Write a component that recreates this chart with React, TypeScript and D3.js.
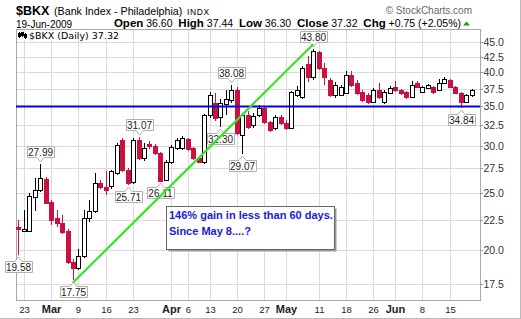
import React, { useEffect, useRef } from 'react';
import * as d3 from 'd3';

const W = 521;
const H = 319;

const dates = [
  '2009-02-20', '2009-02-23', '2009-02-24', '2009-02-25', '2009-02-26', '2009-02-27',
  '2009-03-02', '2009-03-03', '2009-03-04', '2009-03-05', '2009-03-06',
  '2009-03-09', '2009-03-10', '2009-03-11', '2009-03-12', '2009-03-13',
  '2009-03-16', '2009-03-17', '2009-03-18', '2009-03-19', '2009-03-20',
  '2009-03-23', '2009-03-24', '2009-03-25', '2009-03-26', '2009-03-27',
  '2009-03-30', '2009-03-31', '2009-04-01', '2009-04-02', '2009-04-03',
  '2009-04-06', '2009-04-07', '2009-04-08', '2009-04-09',
  '2009-04-13', '2009-04-14', '2009-04-15', '2009-04-16', '2009-04-17',
  '2009-04-20', '2009-04-21', '2009-04-22', '2009-04-23', '2009-04-24',
  '2009-04-27', '2009-04-28', '2009-04-29', '2009-04-30', '2009-05-01',
  '2009-05-04', '2009-05-05', '2009-05-06', '2009-05-07', '2009-05-08',
  '2009-05-11', '2009-05-12', '2009-05-13', '2009-05-14', '2009-05-15',
  '2009-05-18', '2009-05-19', '2009-05-20', '2009-05-21', '2009-05-22',
  '2009-05-26', '2009-05-27', '2009-05-28', '2009-05-29',
  '2009-06-01', '2009-06-02', '2009-06-03', '2009-06-04', '2009-06-05',
  '2009-06-08', '2009-06-09', '2009-06-10', '2009-06-11', '2009-06-12',
  '2009-06-15', '2009-06-16', '2009-06-17', '2009-06-18', '2009-06-19',
];

const opens = [
  21.87, 21.55, 21.54, 24.58, 25.27, 26.36, 24.14, 22.65, 22.21, 21.51, 19.05,
  18.60, 19.56, 22.64, 23.29, 26.00, 25.60, 25.61, 27.03, 30.69, 27.31,
  26.08, 30.69, 28.61, 30.22, 29.99, 29.18, 26.27, 28.17, 29.76, 29.76,
  30.81, 29.76, 28.61, 28.17, 33.85, 35.46, 33.59, 35.32, 35.89,
  37.32, 31.30, 33.85, 32.55, 33.85, 34.79, 32.93, 32.18, 33.59, 32.80,
  32.18, 36.60, 36.32, 41.30, 39.25, 43.30, 40.66, 38.80, 36.60, 36.60,
  36.89, 39.56, 38.34, 37.03, 36.60, 35.61, 37.32, 35.61, 36.89,
  37.76, 37.32, 37.03, 36.32, 38.34, 37.03, 37.61, 37.76, 37.32, 38.34,
  38.80, 37.76, 36.89, 35.61, 36.60,
];
const highs = [
  22.49, 23.38, 24.95, 26.46, 27.99, 26.60, 24.30, 23.36, 22.93, 21.70, 19.30,
  20.08, 23.36, 24.30, 27.03, 26.30, 27.15, 27.30, 30.40, 31.00, 27.50,
  30.90, 31.07, 30.30, 30.60, 30.20, 29.30, 28.40, 30.10, 31.00, 31.20,
  31.00, 29.90, 28.70, 34.00, 37.03, 36.89, 36.04, 37.32, 38.08,
  37.80, 34.10, 34.40, 34.10, 35.20, 35.00, 33.10, 33.90, 33.90, 33.20,
  37.20, 37.90, 41.00, 42.60, 43.80, 43.50, 41.50, 39.10, 38.50, 38.00,
  40.14, 40.20, 38.80, 37.30, 36.90, 37.60, 38.34, 37.30, 37.90,
  38.60, 37.50, 37.20, 38.60, 38.60, 37.90, 38.20, 37.90, 38.95, 39.20,
  39.00, 37.90, 37.00, 36.80, 37.44,
];
const lows = [
  19.58, 21.40, 21.40, 23.27, 25.10, 23.90, 22.06, 21.84, 21.25, 18.95, 17.75,
  18.50, 19.40, 22.30, 23.10, 25.40, 24.78, 25.40, 26.80, 27.10, 25.71,
  25.90, 28.40, 28.30, 29.60, 29.00, 26.11, 26.20, 27.90, 29.50, 29.50,
  29.40, 28.40, 28.06, 28.00, 33.50, 33.00, 32.30, 33.85, 35.50,
  31.30, 29.07, 32.00, 32.20, 33.60, 32.70, 31.70, 31.90, 32.60, 31.90,
  32.00, 36.30, 36.00, 38.50, 38.80, 40.40, 38.05, 36.30, 36.20, 36.40,
  36.70, 37.80, 36.60, 35.60, 35.30, 35.40, 36.00, 35.30, 36.70,
  37.00, 36.60, 36.00, 36.20, 37.60, 36.90, 37.50, 36.80, 37.20, 38.20,
  37.60, 36.70, 34.84, 35.40, 36.30,
];
const closes = [
  21.70, 21.70, 24.70, 25.27, 26.46, 24.03, 22.49, 22.21, 21.43, 19.05, 18.60,
  19.56, 22.64, 23.29, 25.93, 25.60, 25.27, 27.15, 30.10, 27.31, 25.97,
  30.69, 28.61, 29.76, 29.99, 29.18, 26.20, 28.17, 29.87, 30.69, 30.94,
  29.64, 28.61, 28.17, 33.85, 36.60, 33.46, 35.46, 36.04, 37.32,
  31.55, 33.85, 32.30, 33.72, 34.79, 32.93, 31.92, 33.59, 32.80, 32.18,
  37.03, 37.32, 40.66, 39.25, 43.50, 40.66, 39.25, 36.60, 38.05, 37.76,
  39.56, 38.05, 36.89, 35.89, 35.61, 37.32, 36.32, 37.03, 37.61,
  37.32, 36.89, 36.32, 38.05, 37.76, 37.76, 38.05, 37.03, 38.34, 38.95,
  37.76, 36.89, 35.61, 36.57, 37.32,
];

// value call-outs: date, value, side
const calloutDates = ['2009-02-20', '2009-02-26', '2009-03-06', '2009-03-20', '2009-03-24', '2009-03-30', '2009-04-15', '2009-04-17', '2009-04-21', '2009-05-08', '2009-06-17'];
const calloutValues = [19.58, 27.99, 17.75, 25.71, 31.07, 26.11, 32.30, 38.08, 29.07, 43.80, 34.84];
const calloutSides = ['below', 'above', 'below', 'below', 'above', 'below', 'below', 'above', 'below', 'above', 'below'];

const yTicks = [17.5, 20.0, 22.5, 25.0, 27.5, 30.0, 32.5, 35.0, 37.5, 40.0, 42.5, 45.0];
const xTickDates = ['2009-02-23', '2009-03-02', '2009-03-09', '2009-03-16', '2009-03-23', '2009-04-01', '2009-04-06', '2009-04-13', '2009-04-20', '2009-04-27', '2009-05-01', '2009-05-11', '2009-05-18', '2009-05-26', '2009-06-01', '2009-06-08', '2009-06-15'];
const xTickLabels = ['23', 'Mar', '9', '16', '23', 'Apr', '6', '13', '20', '27', 'May', '11', '18', '26', 'Jun', '8', '15'];

const supportLevel = 35.0;
const trendDates = ['2009-03-06', '2009-05-08'];
const trendValues = [17.6, 44.6];

const noteLines = ['146% gain in less than 60 days.', 'Since May 8....?'];

const RED = '#cc1040';
const FONT = 'Arial, "Liberation Sans", Helvetica, sans-serif';

export default function App() {
  const ref = useRef<SVGSVGElement>(null);

  useEffect(() => {
    const svg = d3.select(ref.current);
    svg.selectAll('*').remove();

    const L = 16, R = 480, T = 29.5, B = 300.5;

    const x = d3.scalePoint<string>().domain(dates).range([18.44, 471.6]);
    const y = d3.scaleLog().domain([16.41, 47.25]).range([B, T]);
    const px = (d: string) => Math.round(x(d) as number);

    svg.append('rect').attr('width', W).attr('height', H).attr('fill', '#fff');

    // header
    const hdr = svg.append('g').attr('font-family', FONT).attr('fill', '#000');
    hdr.append('text').attr('x', 16).attr('y', 14.5).attr('font-size', 12.5).attr('font-weight', 'bold').text('$BKX');
    hdr.append('text').attr('x', 54).attr('y', 14.5).attr('font-size', 10.7).text('(Bank Index - Philadelphia)');
    hdr.append('text').attr('x', 187).attr('y', 14.5).attr('font-size', 8.5).attr('letter-spacing', 0.6).text('INDX');
    hdr.append('text').attr('x', 16).attr('y', 27.5).attr('font-size', 10).text('19-Jun-2009');
    const ohlc = hdr.append('text').attr('x', 461).attr('y', 27).attr('text-anchor', 'end').attr('font-size', 11);
    const parts: [string, boolean][] = [
      ['Open', true], [' 36.60  ', false], ['High', true], [' 37.44  ', false], ['Low', true], [' 36.30  ', false],
      ['Close', true], [' 37.32  ', false], ['Chg', true], [' +0.75 (+2.05%)', false],
    ];
    parts.forEach(([t, b]) => {
      ohlc.append('tspan').attr('font-weight', b ? 'bold' : 'normal').attr('font-size', b ? 11.5 : 10.5).attr('xml:space', 'preserve').text(t);
    });
    hdr.append('path').attr('d', 'M463,25.5 L466.5,21.5 L470,25.5 Z').attr('fill', '#1a9a1a');
    hdr.append('text').attr('x', 472).attr('y', 13.5).attr('text-anchor', 'end').attr('font-size', 10).attr('fill', '#666').text('\u00A9 StockCharts.com');

    // grid
    const grid = svg.append('g').attr('shape-rendering', 'crispEdges');
    yTicks.forEach((t) => {
      const yy = Math.round(y(t)) + 0.5;
      grid.append('line').attr('x1', L).attr('x2', R).attr('y1', yy).attr('y2', yy).attr('stroke', '#dadada');
    });
    xTickDates.forEach((d) => {
      const xx = px(d) + 0.5;
      grid.append('line').attr('x1', xx).attr('x2', xx).attr('y1', T).attr('y2', B).attr('stroke', '#dadada');
    });

    // frame
    grid.append('rect').attr('x', L + 0.5).attr('y', T).attr('width', R - L).attr('height', B - T)
      .attr('fill', 'none').attr('stroke', '#a8a8a8');

    // right axis
    const ax = svg.append('g').attr('font-family', FONT).attr('font-size', 10.5).attr('fill', '#333');
    yTicks.forEach((t) => {
      const yy = Math.round(y(t)) + 0.5;
      ax.append('line').attr('x1', R).attr('x2', R + 3).attr('y1', yy).attr('y2', yy).attr('stroke', '#999').attr('shape-rendering', 'crispEdges');
      ax.append('text').attr('x', 483.5).attr('y', yy + 3.8).text(t.toFixed(1));
    });

    // x labels
    const xl = svg.append('g').attr('font-family', FONT).attr('fill', '#222').attr('text-anchor', 'middle');
    xTickDates.forEach((d, i) => {
      const lab = xTickLabels[i];
      const isMonth = /[A-Za-z]/.test(lab);
      xl.append('text').attr('x', px(d) + 0.5).attr('y', 312.5)
        .attr('font-size', isMonth ? 11 : 9.5).attr('font-weight', isMonth ? 'bold' : 'normal').text(lab);
    });

    // legend
    svg.append('rect').attr('x', 17).attr('y', 30.5).attr('width', 116).attr('height', 9.5).attr('fill', '#fff');
    const icon = svg.append('g').attr('stroke', '#000').attr('shape-rendering', 'crispEdges');
    [[19.5, 32, 38, 33.5, 36], [22.5, 31.5, 37, 32.5, 35], [25.5, 32.5, 38.5, 34, 37]].forEach(([ix, y1, y2, b1, b2]) => {
      icon.append('line').attr('x1', ix).attr('x2', ix).attr('y1', y1).attr('y2', y2);
      icon.append('rect').attr('x', ix - 1).attr('y', b1).attr('width', 2).attr('height', b2 - b1).attr('fill', '#000');
    });
    svg.append('text').attr('x', 29).attr('y', 38.5).attr('font-family', '"DejaVu Sans", Verdana, sans-serif')
      .attr('font-size', 9.5).attr('fill', '#000').text('$BKX (Daily) 37.32');

    // candles
    const cg = svg.append('g').attr('shape-rendering', 'crispEdges');
    dates.forEach((d, i) => {
      const o = opens[i], h = highs[i], l = lows[i], c = closes[i];
      const up = c >= o;
      const col = up ? '#000' : RED;
      const cx = px(d) + 0.5;
      cg.append('line').attr('x1', cx).attr('x2', cx).attr('y1', y(h)).attr('y2', y(l)).attr('stroke', col);
      const top = Math.round(y(Math.max(o, c)));
      const bot = Math.round(y(Math.min(o, c)));
      if (up) {
        cg.append('rect').attr('x', cx - 2).attr('y', top + 0.5).attr('width', 4).attr('height', Math.max(1, bot - top))
          .attr('fill', '#fff').attr('stroke', '#000');
      } else {
        cg.append('rect').attr('x', cx - 2.5).attr('y', top).attr('width', 5).attr('height', Math.max(1, bot - top + 1))
          .attr('fill', RED);
      }
    });

    // callouts
    const co = svg.append('g').attr('font-family', FONT).attr('font-size', 10);
    calloutDates.forEach((d, i) => {
      const v = calloutValues[i];
      const cx = px(d) + 0.5;
      const py = y(v);
      const bw = 27, bh = 11;
      const left = Math.round(cx - bw / 2) + 0.5, right = left + bw;
      let path: string, ty: number;
      if (calloutSides[i] === 'below') {
        const tip = Math.round(py) + 2;
        const top = tip + 4.5;
        path = `M${left},${top} L${cx - 3.5},${top} L${cx},${tip} L${cx + 3.5},${top} L${right},${top} L${right},${top + bh} L${left},${top + bh} Z`;
        ty = top + 9;
      } else {
        const tip = Math.round(py) - 2;
        const bottom = tip - 4.5;
        path = `M${left},${bottom} L${cx - 3.5},${bottom} L${cx},${tip} L${cx + 3.5},${bottom} L${right},${bottom} L${right},${bottom - bh} L${left},${bottom - bh} Z`;
        ty = bottom - 2;
      }
      co.append('path').attr('d', path).attr('fill', '#fff').attr('stroke', '#b0b0b0');
      co.append('text').attr('x', cx).attr('y', ty).attr('text-anchor', 'middle').attr('fill', '#222').text(v.toFixed(2));
    });

    // support line
    const sy = y(supportLevel);
    svg.append('line').attr('x1', L).attr('x2', R).attr('y1', sy).attr('y2', sy).attr('stroke', '#0000ee').attr('stroke-width', 2);

    // trend line
    const line = d3.line<number>().x((_, i) => x(trendDates[i]) as number).y((v) => y(v));
    svg.append('path').attr('d', line(trendValues) as string).attr('fill', 'none').attr('stroke', '#3be02a').attr('stroke-width', 2.2);

    // note box
    const nb = svg.append('g');
    nb.append('rect').attr('x', 168.5).attr('y', 208.5).attr('width', 168).attr('height', 43).attr('fill', '#9a9a9a');
    nb.append('rect').attr('x', 166.5).attr('y', 206.5).attr('width', 168).attr('height', 43).attr('fill', '#fff').attr('stroke', '#666');
    noteLines.forEach((t, i) => {
      nb.append('text').attr('x', 169).attr('y', 219 + i * 15.5).attr('font-family', FONT).attr('font-size', 11)
        .attr('font-weight', 'bold').attr('fill', '#1a1ae0').text(t);
    });

    // outer border
    svg.append('line').attr('x1', 0).attr('x2', W).attr('y1', 318.5).attr('y2', 318.5).attr('stroke', '#bbb');
    svg.append('line').attr('x1', 520.5).attr('x2', 520.5).attr('y1', 0).attr('y2', H).attr('stroke', '#bbb');
  }, []);

  return (
    <svg
      ref={ref}
      width={W}
      height={H}
      style={{ position: 'absolute', left: 0, top: 0, display: 'block' }}
    />
  );
}
